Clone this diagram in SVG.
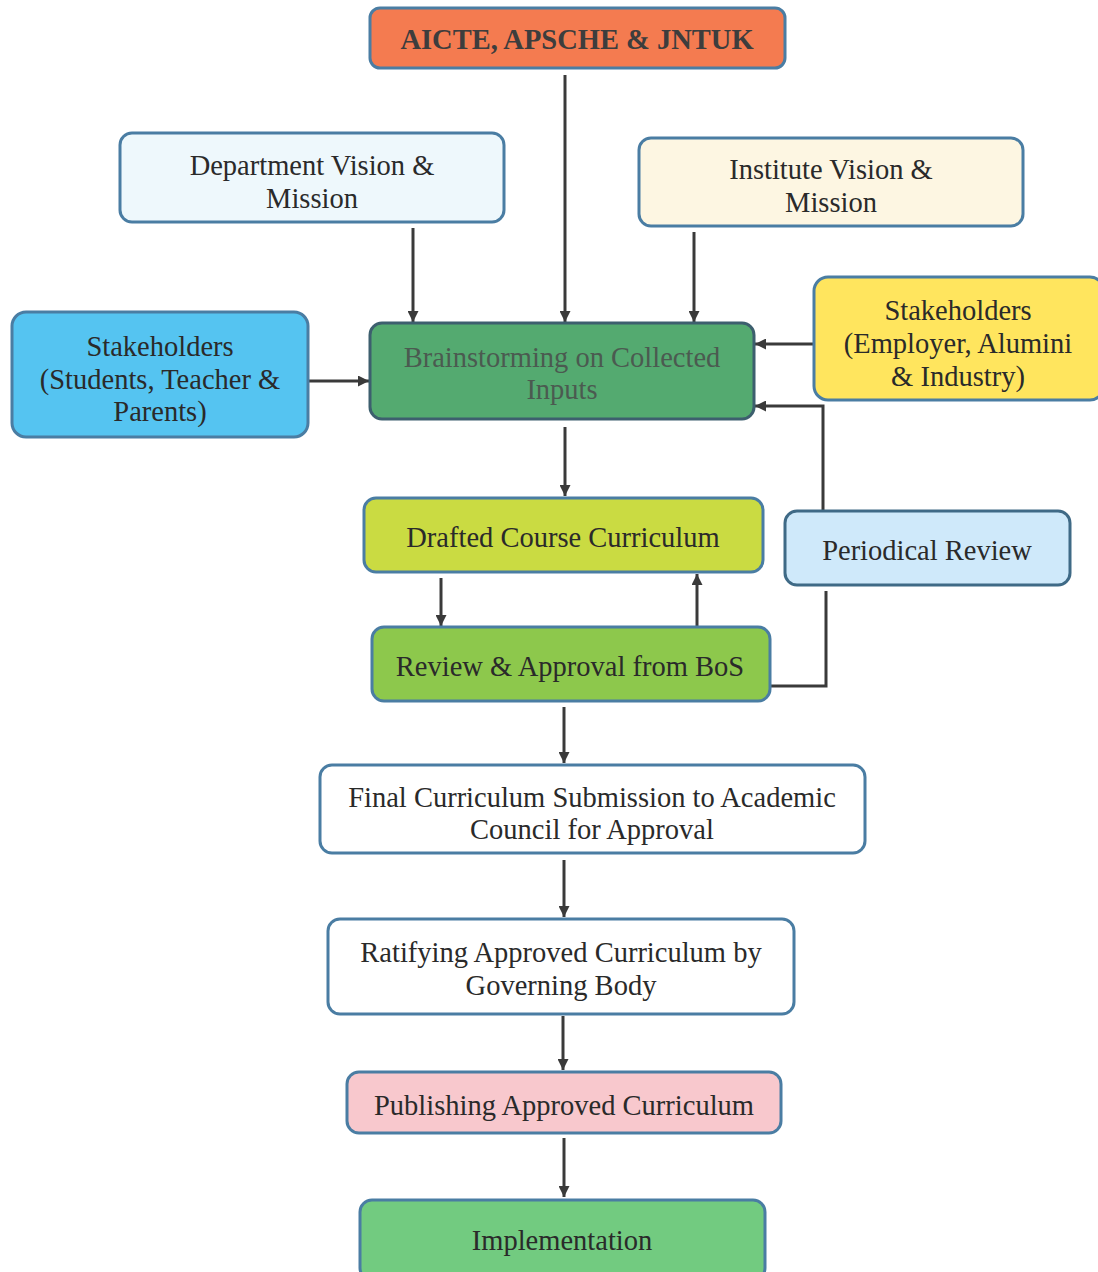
<svg xmlns="http://www.w3.org/2000/svg" width="1098" height="1272" viewBox="0 0 1098 1272">
<defs>
<marker id="ah" viewBox="0 0 10 10" refX="10" refY="5" markerWidth="11" markerHeight="11" markerUnits="userSpaceOnUse" orient="auto">
<path d="M0,0 L10,5 L0,10 z" fill="#3a3a3a"/>
</marker>
<style>
.box{stroke:#4a7da3;stroke-width:3}
.t{font-family:"Liberation Serif","Times New Roman",serif;font-size:28.5px;fill:#2a2a2a;text-anchor:middle}
.b{font-weight:bold;fill:#3d3d3d}
.c{fill:none;stroke:#3a3a3a;stroke-width:3}
</style>
</defs>
<rect width="1098" height="1272" fill="#ffffff"/>
<g id="connectors">
<line class="c" x1="565" y1="75" x2="565" y2="322" marker-end="url(#ah)"/>
<line class="c" x1="413" y1="228" x2="413" y2="322" marker-end="url(#ah)"/>
<line class="c" x1="694" y1="232" x2="694" y2="322" marker-end="url(#ah)"/>
<line class="c" x1="308" y1="381" x2="369" y2="381" marker-end="url(#ah)"/>
<line class="c" x1="814" y1="344" x2="755" y2="344" marker-end="url(#ah)"/>
<polyline class="c" points="823,511 823,406 755,406" marker-end="url(#ah)"/>
<line class="c" x1="565" y1="427" x2="565" y2="496" marker-end="url(#ah)"/>
<line class="c" x1="441" y1="578" x2="441" y2="626" marker-end="url(#ah)"/>
<line class="c" x1="697" y1="626" x2="697" y2="574" marker-end="url(#ah)"/>
<polyline class="c" points="770,686 826,686 826,591"/>
<line class="c" x1="564" y1="707" x2="564" y2="763" marker-end="url(#ah)"/>
<line class="c" x1="564" y1="860" x2="564" y2="917" marker-end="url(#ah)"/>
<line class="c" x1="563" y1="1016" x2="563" y2="1070" marker-end="url(#ah)"/>
<line class="c" x1="564" y1="1138" x2="564" y2="1197" marker-end="url(#ah)"/>
</g>
<g id="aicte">
<rect class="box" x="370" y="8" width="415" height="60" rx="10" fill="#f47b50"/>
<text class="t b" x="577" y="49">AICTE, APSCHE &amp; JNTUK</text>
</g>
<g id="dept">
<rect class="box" x="120" y="133" width="384" height="89" rx="12" fill="#eef8fc"/>
<text class="t" x="312" y="175">Department Vision &amp;</text>
<text class="t" x="312" y="208">Mission</text>
</g>
<g id="institute">
<rect class="box" x="639" y="138" width="384" height="88" rx="12" fill="#fdf6e2"/>
<text class="t" x="831" y="179">Institute Vision &amp;</text>
<text class="t" x="831" y="212">Mission</text>
</g>
<g id="stake-left">
<rect class="box" x="12" y="312" width="296" height="125" rx="14" fill="#55c4f1"/>
<text class="t" x="160" y="356">Stakeholders</text>
<text class="t" x="160" y="389">(Students, Teacher &amp;</text>
<text class="t" x="160" y="421">Parents)</text>
</g>
<g id="brainstorm">
<rect class="box" x="370" y="323" width="384" height="96" rx="12" fill="#54aa70" style="stroke:#3d5f6e"/>
<text class="t" x="562" y="367" style="fill:#4b5a50">Brainstorming on Collected</text>
<text class="t" x="562" y="399" style="fill:#4b5a50">Inputs</text>
</g>
<g id="stake-right">
<rect class="box" x="814" y="277" width="290" height="123" rx="14" fill="#ffe55e"/>
<text class="t" x="958" y="320">Stakeholders</text>
<text class="t" x="958" y="353">(Employer, Alumini</text>
<text class="t" x="958" y="386">&amp; Industry)</text>
</g>
<g id="drafted">
<rect class="box" x="364" y="498" width="399" height="74" rx="12" fill="#cadb42"/>
<text class="t" x="563" y="547">Drafted Course Curriculum</text>
</g>
<g id="periodical">
<rect class="box" x="785" y="511" width="285" height="74" rx="12" fill="#cfe9fa" style="stroke:#3f6a86"/>
<text class="t" x="927" y="560">Periodical Review</text>
</g>
<g id="review">
<rect class="box" x="372" y="627" width="398" height="74" rx="12" fill="#8dc84c"/>
<text class="t" x="570" y="676">Review &amp; Approval from BoS</text>
</g>
<g id="final">
<rect class="box" x="320" y="765" width="545" height="88" rx="12" fill="#ffffff"/>
<text class="t" x="592" y="807">Final Curriculum Submission to Academic</text>
<text class="t" x="592" y="839">Council for Approval</text>
</g>
<g id="ratify">
<rect class="box" x="328" y="919" width="466" height="95" rx="12" fill="#ffffff"/>
<text class="t" x="561" y="962">Ratifying Approved Curriculum by</text>
<text class="t" x="561" y="995">Governing Body</text>
</g>
<g id="publish">
<rect class="box" x="347" y="1072" width="434" height="61" rx="12" fill="#f8c8cd"/>
<text class="t" x="564" y="1115">Publishing Approved Curriculum</text>
</g>
<g id="implement">
<rect class="box" x="360" y="1200" width="405" height="80" rx="12" fill="#72cb80"/>
<text class="t" x="562" y="1250">Implementation</text>
</g>
</svg>
